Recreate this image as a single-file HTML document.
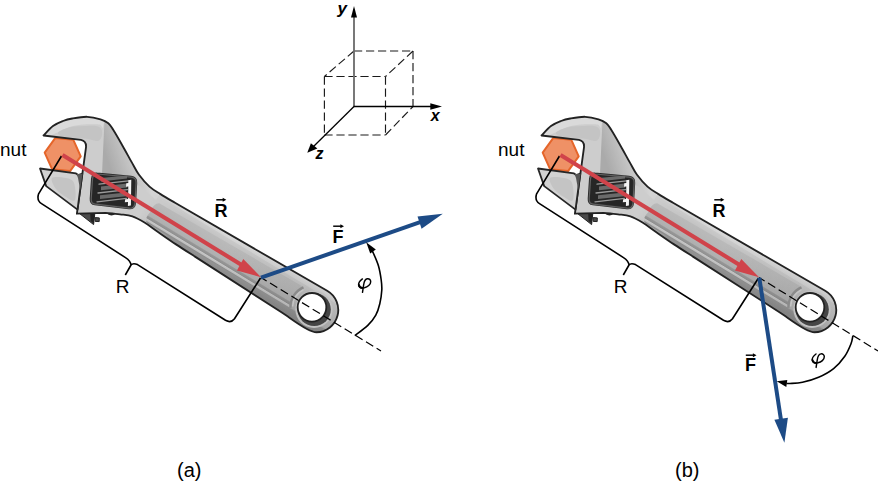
<!DOCTYPE html>
<html><head><meta charset="utf-8"><style>
html,body{margin:0;padding:0;background:#fff;}
svg{display:block;}
text{font-family:"Liberation Sans",sans-serif;}
</style></head><body>
<svg width="878" height="482" viewBox="0 0 878 482">
<defs>
 <linearGradient id="hg" gradientUnits="userSpaceOnUse" x1="230.00" y1="234.40" x2="209.28" y2="268.61"><stop offset="0.0000" stop-color="#dcdcdc"/><stop offset="0.0950" stop-color="#d4d4d4"/><stop offset="0.1150" stop-color="#c9c9c9"/><stop offset="0.2125" stop-color="#c4c4c4"/><stop offset="0.5000" stop-color="#bcbcbc"/><stop offset="0.7750" stop-color="#b0b0b0"/><stop offset="0.8125" stop-color="#949494"/><stop offset="0.9000" stop-color="#8e8e8e"/><stop offset="1.0000" stop-color="#8a8a8a"/></linearGradient>
 <linearGradient id="cg" gradientUnits="userSpaceOnUse" x1="230.00" y1="234.40" x2="209.28" y2="268.61"><stop offset="0.2125" stop-color="#bababa"/><stop offset="0.4500" stop-color="#b6b6b6"/><stop offset="0.6500" stop-color="#afafaf"/><stop offset="0.6750" stop-color="#979797"/><stop offset="0.7250" stop-color="#909090"/><stop offset="0.7450" stop-color="#c6c6c6"/><stop offset="0.7825" stop-color="#bebebe"/><stop offset="0.8050" stop-color="#8e8e8e"/></linearGradient>
 <linearGradient id="bevg" gradientUnits="userSpaceOnUse" x1="104" y1="150" x2="135" y2="140">
  <stop offset="0" stop-color="#aaaaaa"/>
  <stop offset="1" stop-color="#d4d4d4"/>
 </linearGradient>
 <linearGradient id="neckfade" gradientUnits="userSpaceOnUse" x1="146" y1="205" x2="178" y2="224">
  <stop offset="0" stop-color="#fff" stop-opacity="0"/>
  <stop offset="1" stop-color="#fff" stop-opacity="1"/>
 </linearGradient>
 <mask id="neckmask" maskUnits="userSpaceOnUse" x="0" y="0" width="878" height="482">
  <rect x="0" y="0" width="878" height="482" fill="url(#neckfade)"/>
 </mask>
 <linearGradient id="axdark" gradientUnits="userSpaceOnUse" x1="225" y1="245" x2="305" y2="293">
  <stop offset="0" stop-color="#000" stop-opacity="0"/>
  <stop offset="1" stop-color="#000" stop-opacity="0.07"/>
 </linearGradient>
 <clipPath id="bodyclip"><path d="M43.5,135.5 C45.08,133.92 49.75,128.42 53.00,126.00 C56.25,123.58 59.78,122.25 63.00,121.00 C66.22,119.75 68.27,119.20 72.30,118.50 C76.33,117.80 82.50,116.67 87.20,116.80 C91.90,116.93 96.98,118.23 100.50,119.30 C104.02,120.37 106.18,121.45 108.30,123.20 C110.42,124.95 110.78,125.97 113.20,129.80 C115.62,133.63 119.70,140.77 122.80,146.20 C125.90,151.63 129.10,157.63 131.80,162.40 C134.50,167.17 136.05,170.77 139.00,174.80 C141.95,178.83 145.92,183.38 149.50,186.60 C153.08,189.82 156.25,191.40 160.50,194.10 C164.75,196.80 172.58,201.35 175.00,202.80 L327.16,290.75 A22.25,22.25 0 0 1 316.50,332.25 C308.00,332.25 291.00,318.34 283.00,313.20 L195,256.60 C191.83,254.57 182.28,248.57 176.00,244.39 C169.72,240.20 162.48,235.10 157.30,231.50 C152.12,227.90 149.05,225.32 144.90,222.80 C140.75,220.28 136.55,217.82 132.40,216.40 C128.25,214.98 124.47,214.90 120.00,214.30 C115.53,213.70 108.00,213.05 105.60,212.80 L76.9,213.7 L86,147.3 Q86.5,141 81,139.9 Z"/></clipPath>
 <g id="wrench">
  <path d="M79.5,213.5 L93.6,224.6 L94.8,213.5 Z M95.2,217.6 L99.3,217.9 L99.2,221.6 L95.2,221.4 Z" fill="#4a4a4a" stroke="#222" stroke-width="1"/><path d="M90.2,213.5 L94.6,213.5 L93.8,223.5 L90.6,221 Z" fill="#222"/>
  <path d="M106,213 Q111,217.5 116,213.5 Z" fill="#222"/>
  <path d="M43.5,135.5 C45.08,133.92 49.75,128.42 53.00,126.00 C56.25,123.58 59.78,122.25 63.00,121.00 C66.22,119.75 68.27,119.20 72.30,118.50 C76.33,117.80 82.50,116.67 87.20,116.80 C91.90,116.93 96.98,118.23 100.50,119.30 C104.02,120.37 106.18,121.45 108.30,123.20 C110.42,124.95 110.78,125.97 113.20,129.80 C115.62,133.63 119.70,140.77 122.80,146.20 C125.90,151.63 129.10,157.63 131.80,162.40 C134.50,167.17 136.05,170.77 139.00,174.80 C141.95,178.83 145.92,183.38 149.50,186.60 C153.08,189.82 156.25,191.40 160.50,194.10 C164.75,196.80 172.58,201.35 175.00,202.80 L327.16,290.75 A22.25,22.25 0 0 1 316.50,332.25 C308.00,332.25 291.00,318.34 283.00,313.20 L195,256.60 C191.83,254.57 182.28,248.57 176.00,244.39 C169.72,240.20 162.48,235.10 157.30,231.50 C152.12,227.90 149.05,225.32 144.90,222.80 C140.75,220.28 136.55,217.82 132.40,216.40 C128.25,214.98 124.47,214.90 120.00,214.30 C115.53,213.70 108.00,213.05 105.60,212.80 L76.9,213.7 L86,147.3 Q86.5,141 81,139.9 Z" fill="#cdcdcd"/>
  <g clip-path="url(#bodyclip)">
   <path d="M104.5,119.9 C105.13,120.45 106.85,121.55 108.30,123.20 C109.75,124.85 110.78,125.97 113.20,129.80 C115.62,133.63 119.70,140.77 122.80,146.20 C125.90,151.63 129.10,157.68 131.80,162.40 C134.50,167.12 136.08,170.63 139.00,174.50 C141.92,178.37 145.77,182.47 149.30,185.60 C152.83,188.73 158.38,192.02 160.20,193.30 L156,200 L140,186 L102,174 Z" fill="url(#bevg)"/>
   <rect x="130" y="180" width="220" height="170" fill="url(#hg)" mask="url(#neckmask)"/>
   <path d="M159.60,203.39 L303.15,286.65 A22.5,22.5 0 0 0 289.54,307.88 L149.88,225.01 C145.88,222.81 143.38,219.51 150.54,211.70 C152.24,206.20 156.10,203.09 159.60,203.39 Z" fill="url(#cg)"/>
   <rect x="150" y="180" width="220" height="170" fill="url(#axdark)"/>
   <path d="M290.41,307.86 A21.6,21.6 0 0 1 303.49,287.45" fill="none" stroke="#8a8a8a" stroke-width="2.4"/>
   <path d="M292.62,306.45 A19.4,19.4 0 0 1 303.43,289.89" fill="none" stroke="#c4c4c4" stroke-width="1.5"/>
   <circle cx="314.0" cy="309.3" r="18.6" fill="#c2c2c2"/>
   <circle cx="314.2" cy="309.5" r="16.6" fill="#454545"/>
  </g>
  <path d="M43.5,135.5 C45.08,133.92 49.75,128.42 53.00,126.00 C56.25,123.58 59.78,122.25 63.00,121.00 C66.22,119.75 68.27,119.20 72.30,118.50 C76.33,117.80 82.50,116.67 87.20,116.80 C91.90,116.93 97.62,118.60 100.50,119.30 C103.38,120.00 103.83,120.72 104.50,121.00 L102.5,128.5 C102.03,127.85 101.78,125.32 99.70,124.60 C97.62,123.88 92.70,124.22 90.00,124.20 C87.30,124.18 86.67,124.12 83.50,124.50 C80.33,124.88 74.83,125.42 71.00,126.50 C67.17,127.58 63.67,129.58 60.50,131.00 C57.33,132.42 53.42,134.33 52.00,135.00 L50,136.3 Z" fill="#dadada"/><path d="M58.00,132.50 C58.67,131.22 63.17,129.48 66.00,128.50 C68.83,127.52 71.67,127.02 75.00,126.60 C78.33,126.18 82.33,126.07 86.00,126.00 C89.67,125.93 94.42,125.62 97.00,126.20 C99.58,126.78 100.70,127.87 101.50,129.50 C102.30,131.13 102.38,134.08 101.80,136.00 C101.22,137.92 100.30,140.50 98.00,141.00 C95.70,141.50 91.83,139.53 88.00,139.00 C84.17,138.47 79.33,138.27 75.00,137.80 C70.67,137.33 64.83,137.08 62.00,136.20 C59.17,135.32 57.33,133.78 58.00,132.50 Z" fill="#c4c4c4"/>
  <path d="M43.5,135.5 C45.08,133.92 49.75,128.42 53.00,126.00 C56.25,123.58 59.78,122.25 63.00,121.00 C66.22,119.75 68.27,119.20 72.30,118.50 C76.33,117.80 82.50,116.67 87.20,116.80 C91.90,116.93 96.98,118.23 100.50,119.30 C104.02,120.37 106.18,121.45 108.30,123.20 C110.42,124.95 110.78,125.97 113.20,129.80 C115.62,133.63 119.70,140.77 122.80,146.20 C125.90,151.63 129.10,157.63 131.80,162.40 C134.50,167.17 136.05,170.77 139.00,174.80 C141.95,178.83 145.92,183.38 149.50,186.60 C153.08,189.82 156.25,191.40 160.50,194.10 C164.75,196.80 172.58,201.35 175.00,202.80 L327.16,290.75 A22.25,22.25 0 0 1 316.50,332.25 C308.00,332.25 291.00,318.34 283.00,313.20 L195,256.60 C191.83,254.57 182.28,248.57 176.00,244.39 C169.72,240.20 162.48,235.10 157.30,231.50 C152.12,227.90 149.05,225.32 144.90,222.80 C140.75,220.28 136.55,217.82 132.40,216.40 C128.25,214.98 124.47,214.90 120.00,214.30 C115.53,213.70 108.00,213.05 105.60,212.80 L76.9,213.7 L86,147.3 Q86.5,141 81,139.9 Z" fill="none" stroke="#222" stroke-width="1.85" stroke-linejoin="round"/>
  <path d="M40,168.5 L76,173.4 L78.5,175.2 L82.3,173.6 L77.5,209.6 L46.2,186.1 Z" fill="#d2d2d2" stroke="#262626" stroke-width="1.8" stroke-linejoin="round"/>
  <path d="M52.00,178.00 C53.67,176.17 62.33,177.17 66.00,178.00 C69.67,178.83 72.50,179.33 74.00,183.00 C75.50,186.67 76.33,197.67 75.00,200.00 C73.67,202.33 69.17,198.83 66.00,197.00 C62.83,195.17 58.33,192.17 56.00,189.00 C53.67,185.83 50.33,179.83 52.00,178.00 Z" fill="#c4c4c4"/>
  <path d="M76.5,174 L82.5,173.8 L80.2,190 L78,178 Z" fill="#555"/>
  <path d="M97,173.8 L131,177 Q136.3,177.6 135.9,182.8 L134.8,203 Q134.3,208.5 129,208 L95,204 Q90.6,203.4 91,198.5 L92.3,178.8 Q92.8,173.3 97,173.8 Z" fill="#262626" stroke="#2a2a2a" stroke-width="2.6"/><path d="M97,173.8 L131,177 Q136.3,177.6 135.9,182.8 L134.8,203 Q134.3,208.5 129,208 L95,204 Q90.6,203.4 91,198.5 L92.3,178.8 Q92.8,173.3 97,173.8 Z" fill="none" stroke="#606060" stroke-width="1.2" transform="translate(0.2,0.2)"/>
  <g stroke="#9a9a9a" stroke-width="1.3" stroke-linecap="round">
   <line x1="99" y1="184.2" x2="128.5" y2="180.8"/>
   <line x1="98" y1="193" x2="127.5" y2="189.6"/>
   <line x1="97" y1="201.8" x2="126.5" y2="198.4"/>
  </g>
  <g fill="#6a6a6a">
   <path d="M101,186.5 L127,183.6 L127,187.4 L101,190.3 Z"/>
   <path d="M100,195.3 L126,192.4 L126,196.2 L100,199.1 Z"/>
   <path d="M101,177.9 L127,175.6 L127,178.6 L101,181.5 Z"/>
  </g>
  <path d="M128.3,180.2 L131.3,179.8 L130.9,205.6 L127.9,206 L128,202 L124.8,202.2 L125.2,199.3 L128.1,199 L128.3,186.5 L126,186.7 L126.3,183.3 L128.3,183.1 Z" fill="#f4f4f4"/>
  <circle cx="312.0" cy="307.3" r="14.3" fill="#fff" stroke="#222" stroke-width="1.8"/>
 </g>
</defs>

<!-- ===== axes ===== -->
<g fill="none" stroke="#1a1a1a" stroke-width="1.15" stroke-dasharray="8.2,3.8">
 <path d="M354,51 L413,51"/>
 <path d="M413,51 L413,106.5"/>
 <path d="M354,51 L324.4,76.5"/>
 <path d="M413,51 L385.5,76.5"/>
 <path d="M324.4,76.5 L385.5,76.5"/>
 <path d="M324.4,76.5 L324.4,135"/>
 <path d="M324.4,135 L385.5,135"/>
 <path d="M385.5,76.5 L385.5,135"/>
 <path d="M385.5,135 L413,106.5"/>
</g>
<line x1="354" y1="16" x2="354" y2="106.5" stroke="#6a6a6a" stroke-width="1.8"/>
<path d="M354,6 L351,17.5 L357,17.5 Z" fill="#000"/>
<line x1="353.5" y1="106.5" x2="432" y2="106.5" stroke="#000" stroke-width="1.3"/>
<path d="M442,106.5 L430.3,103.3 L430.3,109.7 Z" fill="#000"/>
<line x1="354" y1="106.5" x2="313" y2="147" stroke="#000" stroke-width="1.3"/>
<path d="M307.3,152.8 L310.9,143.2 L317.4,148.5 Z" fill="#000"/>
<text x="337.5" y="14" font-size="17" font-weight="bold" font-style="italic">y</text>
<text x="430.8" y="121" font-size="16" font-weight="bold" font-style="italic">x</text>
<text x="315.5" y="159" font-size="16" font-weight="bold" font-style="italic">z</text>

<g id="common">
 <path d="M80.70,156.39 L70.06,171.04 L52.06,169.14 L44.70,152.61 L55.34,137.96 L73.34,139.86 Z" fill="#ef9166" stroke="#e5652a" stroke-width="2" stroke-linejoin="round"/>
 <use href="#wrench"/>
 <text x="0" y="156.3" font-size="19">nut</text>
 <text x="115.8" y="293" font-size="19">R</text>
 <path d="M61.5,156 L38.6,193.8 Q36.5,200.5 41.5,203.6 L125.5,257.6 Q130.6,261 131,265 L125.3,275 M131,265 Q133,262.6 137.5,264.6 L225.5,320.3 Q231,323.5 234.5,318.8 L260.5,278" fill="none" stroke="#000" stroke-width="1.6" stroke-linejoin="round"/>
 <line x1="62.5" y1="155" x2="242.5" y2="265.5" stroke="#d0434a" stroke-width="4.1"/>
 <path d="M261,277.2 L243.3,259.1 L236.9,270.4 Z" fill="#d0434a"/>
 <text x="214.5" y="216.6" font-size="18" font-weight="bold">R</text>
 <line x1="216.3" y1="199.8" x2="223.8" y2="199.8" stroke="#000" stroke-width="1.45"/><path d="M226.3,199.8 L222.7,197.8 L222.7,201.8 Z" fill="#000"/>
</g>
<use href="#common" transform="translate(498,0)"/>
<text x="177" y="477" font-size="20">(a)</text>
<text x="675" y="477" font-size="20">(b)</text>

<line x1="261" y1="277.5" x2="381" y2="351" stroke="#000" stroke-width="1.2" stroke-dasharray="8.5,4" stroke-dashoffset="1.9"/>
<line x1="261" y1="277.6" x2="423" y2="221.2" stroke="#1d4b86" stroke-width="4"/>
<path d="M442.8,213.7 L417.5,216.4 L421.6,228.7 Z" fill="#1d4b86"/>
<text x="332.5" y="242.5" font-size="18" font-weight="bold">F</text>
<line x1="333.2" y1="226.2" x2="341.5" y2="226.2" stroke="#000" stroke-width="1.45"/><path d="M344.0,226.2 L340.4,224.2 L340.4,228.2 Z" fill="#000"/>
<path d="M354.80,335.60 C356.97,333.90 364.30,328.82 367.80,325.40 C371.30,321.98 373.80,318.72 375.80,315.10 C377.80,311.48 378.80,307.88 379.80,303.70 C380.80,299.52 381.57,293.95 381.80,290.00 C382.03,286.05 381.75,284.00 381.20,280.00 C380.65,276.00 379.87,270.60 378.50,266.00 C377.13,261.40 374.33,255.32 373.00,252.40 C371.67,249.48 370.92,249.15 370.50,248.50" fill="none" stroke="#000" stroke-width="1.6"/>
<path d="M366.2,242.3 L375.8,249.6 L370.2,253.4 Z" fill="#000"/>
<path d="M362.40,278.90 C360.00,280.60 358.30,283.00 358.70,285.30 C359.20,287.60 361.30,288.20 364.40,287.70 C367.60,287.10 370.70,284.60 370.70,281.70 C370.70,279.60 369.20,278.50 367.30,278.80 C365.30,279.10 364.20,281.30 363.70,284.50 L362.50,292.30" fill="none" stroke="#000" stroke-width="1.45" stroke-linecap="round"/><path d="M358.80,284.80 Q359.40,287.90 362.60,288.00" fill="none" stroke="#000" stroke-width="1.9" stroke-linecap="round"/>

<line x1="759" y1="277.5" x2="878" y2="351" stroke="#000" stroke-width="1.2" stroke-dasharray="8.5,4" stroke-dashoffset="1.9"/>
<line x1="759.3" y1="277.8" x2="781.3" y2="422" stroke="#1d4b86" stroke-width="4"/>
<path d="M784.4,442.7 L774.4,419.8 L787.9,417.7 Z" fill="#1d4b86"/>
<text x="745" y="370.9" font-size="18" font-weight="bold">F</text>
<line x1="745.8" y1="355.2" x2="754.0" y2="355.2" stroke="#000" stroke-width="1.45"/><path d="M756.5,355.2 L752.9,353.2 L752.9,357.2 Z" fill="#000"/>
<path d="M852.90,335.60 C852.58,336.95 852.35,340.27 851.00,343.70 C849.65,347.13 847.70,352.05 844.80,356.20 C841.90,360.35 837.97,365.08 833.60,368.60 C829.23,372.12 823.78,375.02 818.60,377.30 C813.42,379.58 807.27,381.27 802.50,382.30 C797.73,383.33 792.67,383.32 790.00,383.50 C787.33,383.68 787.08,383.42 786.50,383.40" fill="none" stroke="#000" stroke-width="1.6"/>
<path d="M776.7,381.3 L787.3,380 L786.3,386.9 Z" fill="#000"/>
<path d="M816.00,354.00 C813.60,355.70 811.90,358.10 812.30,360.40 C812.80,362.70 814.90,363.30 818.00,362.80 C821.20,362.20 824.30,359.70 824.30,356.80 C824.30,354.70 822.80,353.60 820.90,353.90 C818.90,354.20 817.80,356.40 817.30,359.60 L816.10,367.40" fill="none" stroke="#000" stroke-width="1.45" stroke-linecap="round"/><path d="M812.40,359.90 Q813.00,363.00 816.20,363.10" fill="none" stroke="#000" stroke-width="1.9" stroke-linecap="round"/>

</svg>
</body></html>
